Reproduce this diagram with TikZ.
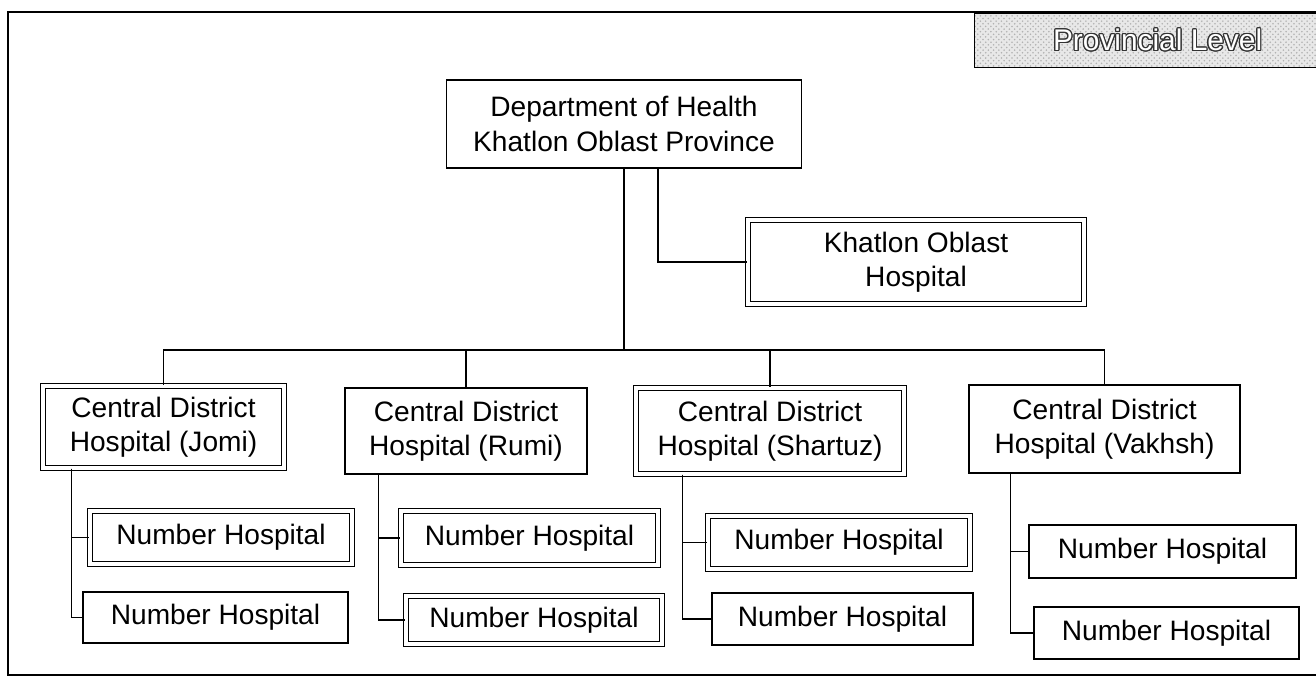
\documentclass[tikz,border=0pt]{standalone}
\usepackage{fontspec}
\setmainfont{Liberation Sans}
\usepackage{contour}
\usetikzlibrary{calc, patterns}
\contourlength{0.7pt}

\begin{document}
\begin{tikzpicture}[x=0.02cm, y=-0.02cm, line width=0.7pt,
    box/.style 2 args={draw, align=center, inner sep=0pt,
      minimum width=#1*0.02cm, minimum height=#2*0.02cm,
      font=\fontsize{16}{19.5}\selectfont},
    dbox/.style 2 args={box={#1}{#2}, double, double distance=2.4pt}]
  \useasboundingbox (0,0) rectangle (1316,680);
  \draw (8,12) rectangle (1340,675);
  \node[draw, anchor=north west, minimum width=366*0.02cm, minimum height=54*0.02cm,
        preaction={fill=gray!18}, pattern=crosshatch dots, pattern color=gray!60,
        font=\fontsize{17}{20}\selectfont] (level) at (974,13)
        {\color{white}\contour{black!80}{Provincial Level}};

  \node[box={355}{88}] (dept) at (624,124) {Department of Health\\Khatlon Oblast Province};
  \node[dbox={336}{84}] (khatlon) at (916,262) {Khatlon Oblast\\Hospital};

  \node[dbox={241}{82}] (jomi) at (163.5,427) {Central District\\Hospital (Jomi)};
  \node[box={242}{86}] (rumi) at (466,431) {Central District\\Hospital (Rumi)};
  \node[dbox={268}{86}] (shartuz) at (770,431) {Central District\\Hospital (Shartuz)};
  \node[box={271}{88}] (vakhsh) at (1104.5,429) {Central District\\Hospital (Vakhsh)};

  \node[dbox={262}{53}] (nh1-jomi) at (221,537.5) {Number Hospital};
  \node[box={265}{51}] (nh2-jomi) at (215.5,617.5) {Number Hospital};
  \node[dbox={257}{54}] (nh1-rumi) at (529.5,538) {Number Hospital};
  \node[dbox={256}{48}] (nh2-rumi) at (534,620) {Number Hospital};
  \node[dbox={262}{53}] (nh1-shartuz) at (839,542.5) {Number Hospital};
  \node[box={261}{52}] (nh2-shartuz) at (842.5,619) {Number Hospital};
  \node[box={267}{53}] (nh1-vakhsh) at (1162.5,551.5) {Number Hospital};
  \node[box={265}{52}] (nh2-vakhsh) at (1166.5,633) {Number Hospital};

  \coordinate (bus) at (624,350);
  \draw (dept.south) -- (bus);
  \draw ($(dept.south)+(34,0)$) |- (khatlon.west);
  \foreach \n/\d in {jomi/29, rumi/34, shartuz/47, vakhsh/42} {
    \draw (bus) -| (\n.north);
    \draw ($(\n.south west)+(\d,0)$) |- (nh1-\n.west);
    \draw ($(\n.south west)+(\d,0)$) |- (nh2-\n.west);
  }
\end{tikzpicture}
\end{document}
